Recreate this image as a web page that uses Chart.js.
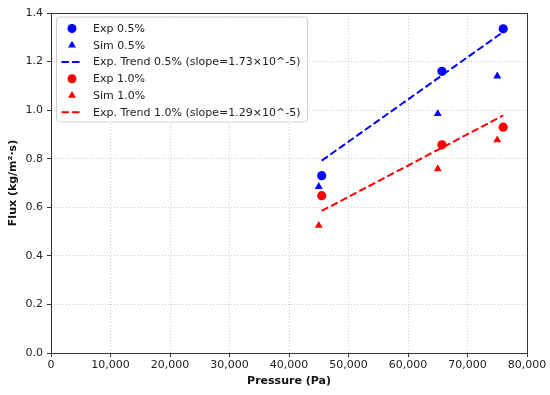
<!DOCTYPE html>
<html>
<head>
<meta charset="utf-8">
<script src="https://cdn.jsdelivr.net/npm/chart.js@4"></script>
<style>
  html, body { margin: 0; padding: 0; background: #fff; }
  #wrap { width: 550px; height: 395px; }
</style>
</head>
<body>
<div id="wrap"><canvas id="fluxChart"></canvas></div>
<script>
// values
const expPressure = [45500, 65700, 76000];
const simPressure = [45000, 65000, 75000];
const exp05 = [0.73, 1.16, 1.335];
const sim05 = [0.685, 0.985, 1.14];
const exp10 = [0.648, 0.857, 0.93];
const sim10 = [0.525, 0.758, 0.877];
const trendPressure = [45500, 76000];
const trend05 = [0.792, 1.322];
const trend10 = [0.585, 0.978];
const seriesLabels = ['Exp 0.5%', 'Sim 0.5%', 'Exp. Trend 0.5% (slope=1.73×10^-5)',
                      'Exp 1.0%', 'Sim 1.0%', 'Exp. Trend 1.0% (slope=1.29×10^-5)'];
const xTicks = [0, 10000, 20000, 30000, 40000, 50000, 60000, 70000, 80000];
const yTicks = [0, 0.2, 0.4, 0.6, 0.8, 1.0, 1.2, 1.4];

const BLUE = '#0000ff', RED = '#ff0000';
const FONT = 'DejaVu Sans';
const DASH = [7.4, 3.2];

function pts(xs, ys) {
  return xs.map((x, i) => ({ x: x, y: ys[i] }));
}

function scatterSet(label, xs, ys, color, style) {
  return {
    type: 'scatter', label: label, data: pts(xs, ys),
    backgroundColor: color, borderColor: color, borderWidth: 0,
    pointStyle: style, pointRadius: 4.6, pointHoverRadius: 4.6
  };
}

function trendSet(label, xs, ys, color) {
  return {
    type: 'line', label: label, data: pts(xs, ys),
    borderColor: color, borderWidth: 2, borderDash: DASH,
    pointRadius: 0, fill: false, tension: 0
  };
}

// legend box + plot frame (matplotlib look)
const framePlugin = {
  id: 'frame',
  afterDraw(chart) {
    const ctx = chart.ctx, a = chart.chartArea;
    ctx.save();
    ctx.strokeStyle = '#333';
    ctx.lineWidth = 1;
    ctx.setLineDash([]);
    ctx.strokeRect(Math.round(a.left) + 0.5, Math.round(a.top) + 0.5,
                   Math.round(a.right - a.left), Math.round(a.bottom - a.top));

    // legend
    const bx = a.left + 5.5, by = a.top + 4, bw = 251, bh = 105;
    ctx.beginPath();
    ctx.roundRect(bx, by, bw, bh, 3);
    ctx.fillStyle = 'rgba(255,255,255,0.85)';
    ctx.fill();
    ctx.strokeStyle = '#d0d0d0';
    ctx.lineWidth = 1;
    ctx.stroke();

    ctx.font = '11px "' + FONT + '"';
    ctx.textBaseline = 'middle';
    ctx.textAlign = 'left';
    chart.data.datasets.forEach((ds, i) => {
      const y = by + 11.5 + i * 16.75;
      const mx = bx + 15.5;
      ctx.fillStyle = ds.borderColor;
      ctx.strokeStyle = ds.borderColor;
      if (ds.type === 'line') {
        ctx.lineWidth = 2;
        ctx.setLineDash(DASH);
        ctx.beginPath();
        ctx.moveTo(mx - 10.5, y);
        ctx.lineTo(mx + 10.5, y);
        ctx.stroke();
        ctx.setLineDash([]);
      } else if (ds.pointStyle === 'triangle') {
        const r = 4.6;
        ctx.beginPath();
        ctx.moveTo(mx, y - r);
        ctx.lineTo(mx + r * 0.866, y + r * 0.5);
        ctx.lineTo(mx - r * 0.866, y + r * 0.5);
        ctx.closePath();
        ctx.fill();
      } else {
        ctx.beginPath();
        ctx.arc(mx, y, 4.5, 0, Math.PI * 2);
        ctx.fill();
      }
      ctx.fillStyle = '#222';
      ctx.fillText(ds.label, bx + 36.5, y + 0.5);
    });
    ctx.restore();
  }
};

const ctx = document.getElementById('fluxChart').getContext('2d');
new Chart(ctx, {
  data: {
    datasets: [
      scatterSet(seriesLabels[0], expPressure, exp05, BLUE, 'circle'),
      scatterSet(seriesLabels[1], simPressure, sim05, BLUE, 'triangle'),
      trendSet(seriesLabels[2], trendPressure, trend05, BLUE),
      scatterSet(seriesLabels[3], expPressure, exp10, RED, 'circle'),
      scatterSet(seriesLabels[4], simPressure, sim10, RED, 'triangle'),
      trendSet(seriesLabels[5], trendPressure, trend10, RED)
    ]
  },
  options: {
    responsive: true,
    maintainAspectRatio: false,
    animation: false,
    layout: { padding: { top: 13, right: 23, left: 0, bottom: 0 } },
    plugins: {
      legend: { display: false },
      tooltip: { enabled: false }
    },
    scales: {
      x: {
        type: 'linear',
        min: 0, max: 80000,
        afterBuildTicks: (s) => { s.ticks = xTicks.map(v => ({ value: v })); },
        afterFit: (s) => { s.height = 42; },
        ticks: {
          color: '#222', padding: 2,
          font: { family: FONT, size: 11 },
          maxRotation: 0,
          callback: (v) => v.toLocaleString('en-US')
        },
        grid: {
          color: 'rgba(170,170,170,0.8)', lineWidth: 0.8,
          tickColor: '#333', tickLength: 4, tickWidth: 1,
          tickBorderDash: []
        },
        border: { display: false, dash: [1, 2] },
        title: {
          display: true, text: 'Pressure (Pa)', color: '#111',
          font: { family: FONT, size: 11, weight: 'bold' },
          padding: { top: 0, bottom: 7 }
        }
      },
      y: {
        type: 'linear',
        min: 0, max: 1.4,
        afterBuildTicks: (s) => { s.ticks = yTicks.map(v => ({ value: v })); },
        afterFit: (s) => { s.width = 51; },
        ticks: {
          color: '#222', padding: 4,
          font: { family: FONT, size: 11 },
          callback: (v) => Number(v).toFixed(1)
        },
        grid: {
          color: 'rgba(170,170,170,0.8)', lineWidth: 0.8,
          tickColor: '#333', tickLength: 4, tickWidth: 1,
          tickBorderDash: []
        },
        border: { display: false, dash: [1, 2] },
        title: {
          display: true, text: 'Flux (kg/m²·s)', color: '#111',
          font: { family: FONT, size: 11, weight: 'bold' },
          padding: { top: 7, bottom: 0 }
        }
      }
    }
  },
  plugins: [framePlugin]
});
</script>
</body>
</html>
